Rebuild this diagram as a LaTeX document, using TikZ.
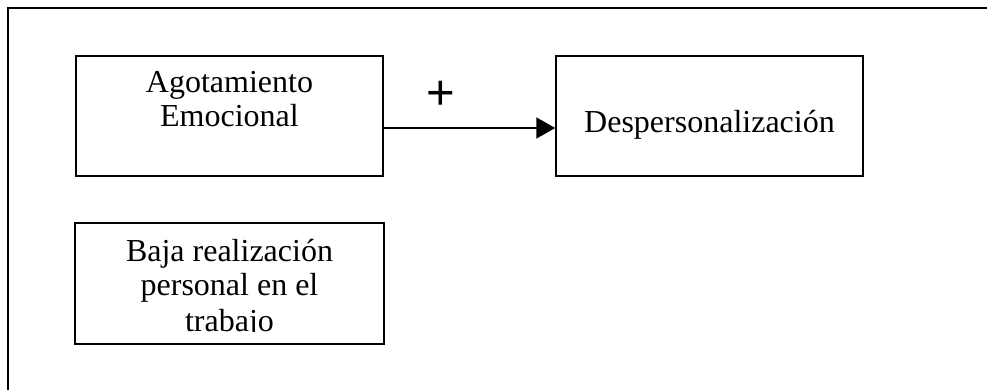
\documentclass[tikz,border=0pt]{standalone}
\usepackage{fontspec}
\setmainfont{Liberation Serif}
\newfontfamily\plusfont{Liberation Sans}
\usetikzlibrary{arrows.meta}
\begin{document}
\begin{tikzpicture}[x=1pt,y=-1pt,
  box/.style={draw,line width=1.4pt,minimum width=307pt,minimum height=120pt,inner sep=0pt},
  boxtext/.style={anchor=base,inner sep=0pt,font=\fontsize{32}{34}\selectfont},
  frame/.style={line width=1.4pt}]
  \useasboundingbox (0,0) rectangle (987,390);
  % open frame: top and left edges only
  \coordinate (ftl) at (8,8);
  \coordinate (ftr) at (987,8);
  \coordinate (fbl) at (8,390);
  \draw[frame] (fbl) -- (ftl) -- (ftr);

  % boxes
  \node[box] (agot) at (229.5,116) {};
  \node[box] (desp) at (709.5,116) {};
  \node[box,minimum width=309pt,minimum height=121pt] (baja) at (229.5,283.5) {};

  % labels
  \node[boxtext] (agot1) at (229.5,93) {Agotamiento};
  \node[boxtext] (agot2) at (229.5,127) {Emocional};
  \node[boxtext] (desp1) at (709.5,133) {Despersonalización};
  \begin{scope}
    \clip (76,224) rectangle (383,331);
    \node[boxtext] (baja1) at (229.5,261) {Baja realización};
    \node[boxtext] (baja2) at (229.5,295.5) {personal en el};
    \node[boxtext] (baja3) at (229.5,331) {trabajo};
  \end{scope}

  % connector
  \coordinate (lvl) at (0,128);
  \draw[line width=1.4pt,-{Triangle[length=19pt,width=21pt]}]
    (agot.east |- lvl) -- (desp.west |- lvl);
  \node[inner sep=0pt,font=\plusfont\fontsize{49}{49}\selectfont] (plus) at (441,95) {+};
\end{tikzpicture}
\end{document}
